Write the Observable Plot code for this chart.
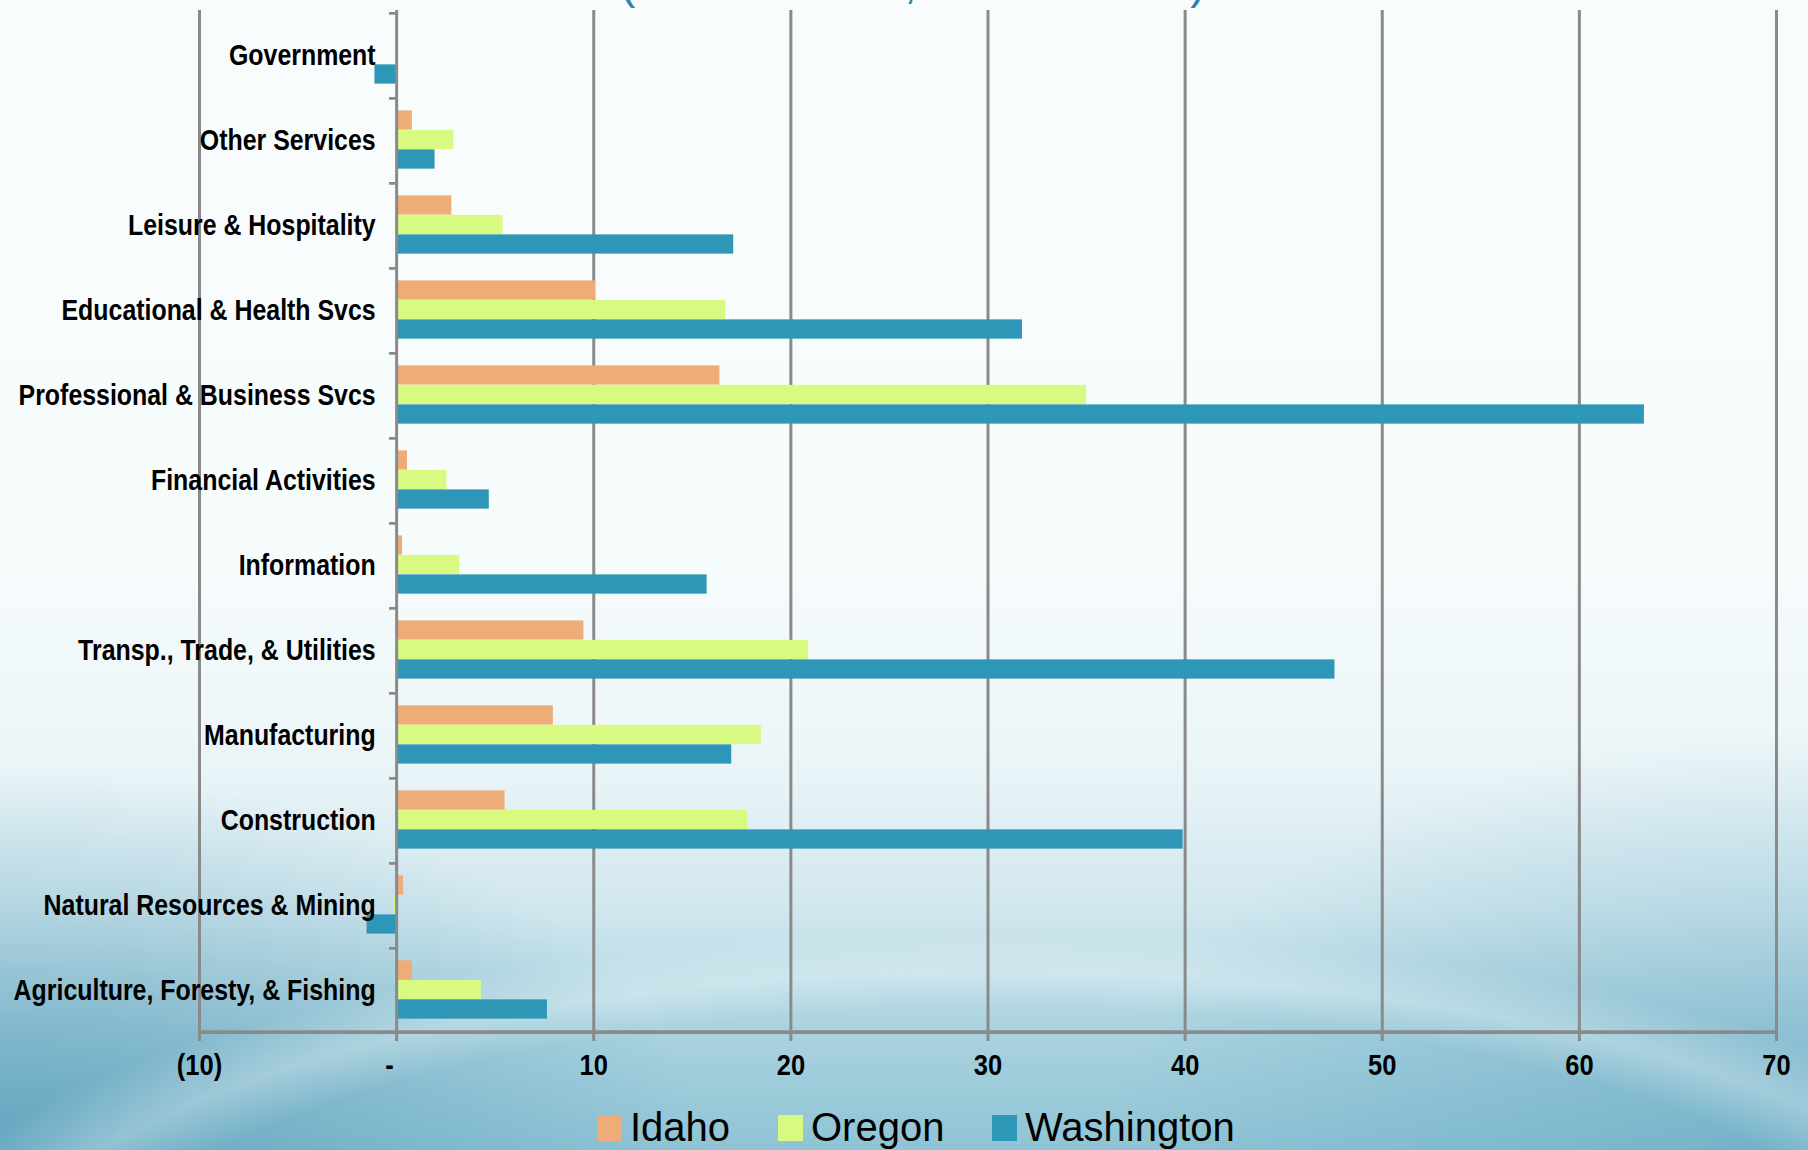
<!DOCTYPE html>
<html>
<head>
<meta charset="utf-8">
<script src="https://cdn.jsdelivr.net/npm/d3@7"></script>
<script src="https://cdn.jsdelivr.net/npm/@observablehq/plot@0.6"></script>
<style>
  html, body { margin: 0; padding: 0; }
  #page {
    position: relative;
    width: 1808px;
    height: 1150px;
    overflow: hidden;
    font-family: "Liberation Sans", Arial, sans-serif;
    background:
      radial-gradient(ellipse 1500px 520px at 55% 1330px, rgba(255,255,255,0) 62%, rgba(255,255,255,0.28) 69%, rgba(255,255,255,0) 77%),
      radial-gradient(ellipse 700px 380px at 0% 100%, rgba(60,140,172,0.55), rgba(60,140,172,0) 100%),
      radial-gradient(ellipse 700px 420px at 100% 100%, rgba(80,155,185,0.45), rgba(80,155,185,0) 100%),
      linear-gradient(to bottom, #f8fcfd 0%, #f6fbfc 50%, #ebf5f8 66%, #d1e7ee 79%, #a9d2df 90%, #8fc4d5 100%);
  }
  #chart { position: absolute; left: 0; top: 0; }
  #subtitle {
    position: absolute;
    left: 620px;
    top: -41px;
    white-space: nowrap;
    font-size: 46px;
    line-height: 46px;
    color: #2b84ae;
  }
  #legend { position: absolute; left: 0; top: 0; }
</style>
</head>
<body>
<div id="page">
  <div id="subtitle">(2012 to 2013, in thousands)</div>
  <div id="chart"></div>
  <svg id="legend" width="1808" height="1150"></svg>
</div>
<script>
// Industries, listed from top to bottom
const categories = [
  "Government",
  "Other Services",
  "Leisure & Hospitality",
  "Educational & Health Svcs",
  "Professional & Business Svcs",
  "Financial Activities",
  "Information",
  "Transp., Trade, & Utilities",
  "Manufacturing",
  "Construction",
  "Natural Resources & Mining",
  "Agriculture, Foresty, & Fishing"
];

// Employment change by industry (thousands)
const idaho      = [0,    0.8,  2.8,  10.1,  16.4, 0.55, 0.3,   9.5,  7.95,  5.5,  0.35, 0.8];
const oregon     = [0,    2.9,  5.4,  16.7,  35.0, 2.55, 3.2,  20.9, 18.5,  17.8, -0.1,  4.3];
const washington = [-1.1, 1.95, 17.1, 31.75, 63.3, 4.7,  15.75, 47.6, 17.0, 39.9, -1.5,  7.65];

const states = ["Idaho", "Oregon", "Washington"];
const stateColors = ["#eeac78", "#d8fa80", "#2e96b6"];
const xTicks = [-10, 0, 10, 20, 30, 40, 50, 60, 70];

const series = [idaho, oregon, washington];
const rows = categories.flatMap((c, i) =>
  states.map((s, k) => ({category: c, state: s, value: series[k][i]}))
);

// Layout
const W = 1808, H = 1090;
const mt = 10, mb = 57, ml = 199, mr = 32;
const bw = (H - mt - mb) / categories.length;   // band height per industry
const barH = 19.5;                               // height of each state's bar
const gap = (bw - states.length * barH) / 2;
const gridColor = "#8a8a8a";

// Accounting-style tick labels: (10), -, 10 ...
const fmt = v => v < 0 ? `(${-v})` : v === 0 ? "-\u00a0\u00a0" : `${v}`;

const barMarks = states.map((s, k) =>
  Plot.barX(rows.filter(r => r.state === s && r.value !== 0), {
    x: "value",
    y: "category",
    fill: stateColors[k],
    insetTop: gap + k * barH,
    insetBottom: bw - gap - (k + 1) * barH
  })
);

const chart = Plot.plot({
  width: W,
  height: H,
  marginTop: mt,
  marginBottom: mb,
  marginLeft: ml,
  marginRight: mr,
  style: {background: "transparent", overflow: "visible", fontFamily: "'Liberation Sans', Arial, sans-serif"},
  x: {domain: [-10, 70], axis: null},
  y: {domain: categories, padding: 0, axis: null},
  marks: [
    // vertical gridlines
    Plot.ruleX(xTicks.filter(t => t !== 0), {stroke: gridColor, strokeWidth: 3}),
    ...barMarks,
    // category axis at zero, with separator ticks
    Plot.ruleX([0], {stroke: gridColor, strokeWidth: 3}),
    Plot.barX(categories, {y: d => d, x1: -0.36, x2: 0, insetBottom: bw - 3, fill: gridColor}),
    // value axis baseline
    Plot.barX(categories.slice(-1), {y: d => d, x1: -10, x2: 70, insetTop: bw - 2, insetBottom: -2, fill: gridColor}),
    Plot.axisX(xTicks, {
      anchor: "bottom",
      tickSize: 8,
      tickPadding: 12,
      tickFormat: fmt,
      stroke: gridColor,
      strokeWidth: 3,
      fill: "#000",
      fontSize: 30,
      fontWeight: "bold",
      label: null
    }),
    // industry labels beside the zero axis
    Plot.text(categories, {
      y: d => d,
      x: 0,
      dx: -21,
      text: d => d,
      textAnchor: "end",
      fontSize: 30,
      fontWeight: "bold",
      fill: "#000"
    })
  ]
});

document.getElementById("chart").appendChild(chart);

// Narrow the bold labels
function condense(sel, factor) {
  d3.select(chart).selectAll(sel).each(function() {
    this.setAttribute("font-weight", "bold");
    const len = this.getComputedTextLength();
    this.setAttribute("textLength", len * factor);
    this.setAttribute("lengthAdjust", "spacingAndGlyphs");
  });
}
condense('g[aria-label="text"] text', 0.83);
condense('g[aria-label="x-axis tick label"] text', 0.85);

// Legend
const legend = d3.select("#legend");
const legendX = [597, 778, 992];
states.forEach((s, k) => {
  legend.append("rect")
    .attr("x", legendX[k]).attr("y", 1115)
    .attr("width", 25).attr("height", 26)
    .attr("fill", stateColors[k]);
  legend.append("text")
    .attr("x", legendX[k] + 33).attr("y", 1141)
    .attr("font-size", 40)
    .attr("font-family", "'Liberation Sans', Arial, sans-serif")
    .attr("fill", "#000")
    .text(s);
});
</script>
</body>
</html>
